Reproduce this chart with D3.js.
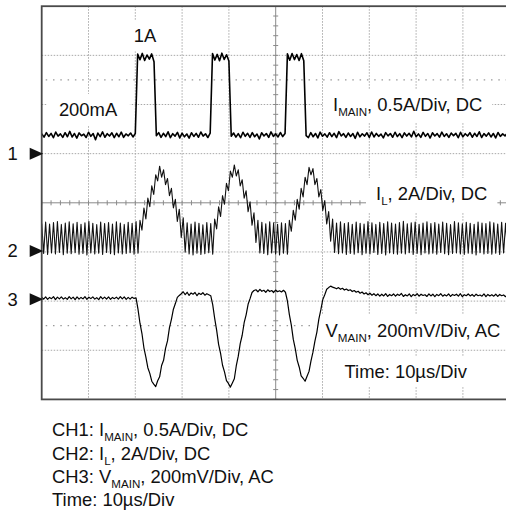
<!DOCTYPE html>
<html>
<head>
<meta charset="utf-8">
<script src="https://cdn.jsdelivr.net/npm/d3@7"></script>
<style>
  html, body { margin: 0; padding: 0; background: #fff; }
  svg { display: block; }
</style>
</head>
<body>
<svg id="scope" width="506" height="515"></svg>
<script>
// ---- Acquisition settings -------------------------------------------------
const timePerDivUs = 10;          // horizontal: 10 µs / division
const timeDivisions = 10;
const verticalDivisions = 8;
const mainStepUs = 0.5;           // sample spacing of the CH1 record
const fastStepUs = 0.42;          // sample spacing of the CH2 / CH3 records

// ---- CH1: load current I_MAIN, mA (0.5 A/div, DC) -------------------------
const iMainMilliamps = [
  202,168,214,175,206,162,220,178,201,166,213,172,226,170,205,158,211,182,198,164,
  218,176,204,142,209,173,221,167,203,179,212,163,207,172,219,166,200,181,210,170,205,
  1012,955,1020,948,1004,962,1015,935,
  182,214,166,207,174,222,163,203,178,216,160,209,171,200,158,213,175,206,167,220,179,202,164,208,
  1018,952,1010,946,1022,958,1006,942,
  178,210,168,204,162,218,176,207,165,214,172,200,150,212,180,205,166,221,175,201,170,215,174,206,
  1015,950,1019,957,1008,948,1017,944,
  183,164,214,172,205,160,219,177,201,168,213,174,207,163,224,180,203,166,210,175,
  204,156,217,171,202,179,212,165,220,170,206,176,199,161,214,181,205,167,218,174,
  203,163,211,179,207,170,228,172,201,166,216,176,205,159,212,180,204,168,219,175,
  202,165,210,183,206,162,217,171,203,179,213,167,207,175,222,164,204,178,211,170,
  205,160,215,176,201,181,209,173
];

// ---- CH2: inductor current I_L, A (2 A/div, DC) ---------------------------
const iInductorAmps = [
  1.12,-0.10,1.18,-0.14,1.10,-0.08,1.16,-0.12,1.20,-0.06,
  1.08,-0.15,1.14,-0.09,1.19,-0.11,1.11,-0.07,1.17,-0.13,
  1.09,-0.10,1.15,-0.16,1.21,-0.08,1.13,-0.12,1.07,-0.09,
  1.18,-0.14,1.12,-0.06,1.16,-0.11,1.10,-0.15,1.19,-0.08,
  1.14,-0.12,1.08,-0.10,1.17,-0.07,1.13,-0.13,1.20,-0.09,
  1.25,0.85,1.75,1.30,2.15,1.80,2.65,2.30,3.10,2.85,3.45,3.00,
  3.30,2.70,2.95,2.25,2.55,1.75,2.10,1.20,1.70,0.55,1.35,-0.05,
  1.15,-0.12,1.10,-0.16,1.18,-0.09,1.13,-0.14,1.06,-0.11,1.16,-0.07,1.12,-0.13,
  1.30,0.90,1.80,1.40,2.25,1.90,2.75,2.45,3.25,3.00,3.50,3.05,
  3.30,2.65,2.90,2.15,2.45,1.60,2.00,1.05,1.55,0.35,1.25,-0.08,
  1.17,-0.10,1.11,-0.15,1.19,-0.08,1.14,-0.12,1.09,-0.16,1.15,-0.09,1.12,-0.13,
  1.25,0.80,1.65,1.25,2.10,1.70,2.55,2.20,3.00,2.70,3.40,3.10,
  3.35,2.70,2.95,2.20,2.50,1.65,2.05,1.10,1.60,0.40,1.30,-0.06,
  1.14,-0.11,1.19,-0.08,1.12,-0.14,1.16,-0.10,1.09,-0.13,
  1.18,-0.07,1.13,-0.15,1.10,-0.09,1.20,-0.12,1.15,-0.06,
  1.08,-0.14,1.17,-0.10,1.12,-0.16,1.19,-0.08,1.14,-0.11,
  1.10,-0.13,1.16,-0.09,1.21,-0.12,1.11,-0.07,1.15,-0.14,
  1.18,-0.10,1.09,-0.15,1.14,-0.08,1.19,-0.12,1.12,-0.09,
  1.16,-0.13,1.10,-0.06,1.18,-0.11,1.13,-0.15,1.07,-0.10,
  1.20,-0.08,1.15,-0.12,1.11,-0.14,1.17,-0.09,1.13,-0.11,
  1.09,-0.16,1.18,-0.07,1.14,-0.12,1.12,-0.10,1.19,-0.13,
  1.15,-0.09,1.10,-0.14,1.17,-0.08,1.13,-0.11,1.16
];

// ---- CH3: output voltage V_MAIN, mV (200 mV/div, AC) ----------------------
const vMainMillivolts = [
  8,0,9,-1,7,2,10,-2,8,1,9,0,6,-1,10,1,8,-2,9,0,
  7,1,10,-1,8,2,9,0,6,-2,10,1,8,0,9,-1,7,2,8,0,
  10,1,9,-1,7,0,8,3,
  5,-42,-98,-140,-198,-236,-279,-302,-334,-346,-356,-332,-316,-270,-249,-200,-170,-116,-82,-41,-18,7,15,
  22,30,18,28,15,25,20,27,14,24,19,26,16,22,18,
  14,-22,-78,-126,-184,-221,-269,-296,-332,-343,-358,-341,-324,-271,-232,-181,-147,-96,-64,-21,2,27,35,
  38,30,40,32,36,28,38,31,35,27,37,30,34,29,36,
  28,-7,-63,-106,-164,-201,-249,-276,-312,-322,-334,-314,-294,-251,-216,-171,-134,-81,-44,-2,18,40,47,53,49,
  46,42,47,40,44,37,41,35,38,31,
  35,28,32,24,29,21,26,18,24,16,
  22,14,21,12,20,13,22,11,19,14,
  21,12,20,15,23,11,18,13,21,10,
  19,14,22,12,20,15,18,11,21,13,
  20,10,19,14,22,12,18,13,21,11,
  19,15,20,12,22,10,18,14,21,13,
  19,11,20,14,17,12,21,10,19,13,
  18,12,20,11,19,14,17,10,18,13
];

// ---- Channel set-up: units per division and ground offset (div) -------------
const channelIds = ["1", "2", "3"];
const channelPerDiv = [0.5, 2, 0.2];
const channelOffsetDiv = [1, -0.98, -1.96];

// ---- Legend texts -----------------------------------------------------------
const channelLabelParts = [
  [{ text: "I" }, { text: "MAIN", sub: true }, { text: ", 0.5A/Div, DC" }],
  [{ text: "I" }, { text: "L", sub: true }, { text: ", 2A/Div, DC" }],
  [{ text: "V" }, { text: "MAIN", sub: true }, { text: ", 200mV/Div, AC" }]
];
const timeLabel = "Time: 10µs/Div";
const levelLabels = [{ text: "1A", t: 20.1, value: 1.0 }, { text: "200mA", t: 4.1, value: 0.2 }];

// ---- Layout -----------------------------------------------------------------
const plot = { left: 41.7, top: 6.2, width: 468, height: 393.2 };
const fontFamily = "'Liberation Sans', Arial, Helvetica, sans-serif";
const fontSize = 18.4, subSize = 11.6, subShift = 5;

const svg = d3.select("#scope");

const x = d3.scaleLinear()
  .domain([0, timePerDivUs * timeDivisions])
  .range([plot.left, plot.left + plot.width]);
const yDiv = d3.scaleLinear()
  .domain([verticalDivisions / 2, -verticalDivisions / 2])
  .range([plot.top, plot.top + plot.height]);
const yChan = (ch, v) => yDiv(v / channelPerDiv[ch] + channelOffsetDiv[ch]);

const defs = svg.append("defs");
defs.append("clipPath").attr("id", "screen")
  .append("rect")
  .attr("x", plot.left).attr("y", plot.top)
  .attr("width", plot.width).attr("height", plot.height);

// ---- Graticule ----------------------------------------------------------------
const grid = svg.append("g").attr("clip-path", "url(#screen)");
const xMid = timePerDivUs * timeDivisions / 2;

grid.selectAll("line.vgrid")
  .data(d3.range(1, timeDivisions).map(k => k * timePerDivUs).filter(t => t !== xMid))
  .join("line")
  .attr("x1", d => x(d)).attr("x2", d => x(d))
  .attr("y1", plot.top).attr("y2", plot.top + plot.height)
  .attr("stroke", "#a8a8a8").attr("stroke-width", 1)
  .attr("stroke-dasharray", "1.5,1.5");

grid.selectAll("line.hgrid")
  .data(d3.range(-3, 4).filter(d => d !== 0))
  .join("line")
  .attr("x1", plot.left).attr("x2", plot.left + plot.width)
  .attr("y1", d => yDiv(d)).attr("y2", d => yDiv(d))
  .attr("stroke", "#a8a8a8").attr("stroke-width", 1)
  .attr("stroke-dasharray", "1.5,1.5");

// sparse reference dots at ±2.5 div
grid.selectAll("line.refdots")
  .data([2.5, -2.5])
  .join("line")
  .attr("x1", plot.left + 4).attr("x2", plot.left + plot.width)
  .attr("y1", d => yDiv(d)).attr("y2", d => yDiv(d))
  .attr("stroke", "#9a9a9a").attr("stroke-width", 1.2)
  .attr("stroke-dasharray", "1.5,5.8");

// centre cross-hair with fifth-division ticks
grid.append("line")
  .attr("x1", x(xMid)).attr("x2", x(xMid))
  .attr("y1", plot.top).attr("y2", plot.top + plot.height)
  .attr("stroke", "#8a8a8a").attr("stroke-width", 1);
grid.append("line")
  .attr("x1", plot.left).attr("x2", plot.left + plot.width)
  .attr("y1", yDiv(0)).attr("y2", yDiv(0))
  .attr("stroke", "#8a8a8a").attr("stroke-width", 1);
grid.selectAll("line.xminor")
  .data(d3.range(0, timePerDivUs * timeDivisions + 0.01, timePerDivUs / 5))
  .join("line")
  .attr("x1", d => x(d)).attr("x2", d => x(d))
  .attr("y1", yDiv(0) - 2.5).attr("y2", yDiv(0) + 2.5)
  .attr("stroke", "#8a8a8a").attr("stroke-width", 1);
grid.selectAll("line.yminor")
  .data(d3.range(-verticalDivisions / 2, verticalDivisions / 2 + 0.01, 0.2))
  .join("line")
  .attr("x1", x(xMid) - 2.5).attr("x2", x(xMid) + 2.5)
  .attr("y1", d => yDiv(d)).attr("y2", d => yDiv(d))
  .attr("stroke", "#8a8a8a").attr("stroke-width", 1);

// ---- Label masks, traces, labels -----------------------------------------
const maskLayer = svg.append("g").attr("clip-path", "url(#screen)");
const traceLayer = svg.append("g").attr("clip-path", "url(#screen)");
const textLayer = svg.append("g")
  .attr("font-family", fontFamily).attr("font-size", fontSize).attr("fill", "#111");

const traceLine = (ch, step, scaleToUnit) => d3.line()
  .x((d, i) => x(i * step))
  .y(d => yChan(ch, d * scaleToUnit));

traceLayer.append("path")
  .datum(iMainMilliamps)
  .attr("d", traceLine(0, mainStepUs, 0.001))
  .attr("fill", "none").attr("stroke", "#000").attr("stroke-width", 1.6)
  .attr("stroke-linejoin", "round");

traceLayer.append("path")
  .datum(iInductorAmps)
  .attr("d", traceLine(1, fastStepUs, 1))
  .attr("fill", "none").attr("stroke", "#111").attr("stroke-width", 1.1)
  .attr("stroke-linejoin", "round");

traceLayer.append("path")
  .datum(vMainMillivolts)
  .attr("d", traceLine(2, fastStepUs, 0.001))
  .attr("fill", "none").attr("stroke", "#000").attr("stroke-width", 1.2)
  .attr("stroke-linejoin", "round");

function drawLabel(g, x0, y0, parts) {
  const t = g.append("text").attr("x", x0).attr("y", y0);
  let lowered = false;
  parts.forEach(p => {
    const s = t.append("tspan").text(p.text);
    if (p.sub) {
      s.attr("font-size", subSize).attr("dy", subShift);
      lowered = true;
    } else if (lowered) {
      s.attr("dy", -subShift);
      lowered = false;
    }
  });
  return t;
}

function maskBehind(textSel, padX, padY) {
  const b = textSel.node().getBBox();
  maskLayer.append("rect")
    .attr("x", b.x - padX).attr("y", b.y - padY)
    .attr("width", b.width + 2 * padX).attr("height", b.height + 2 * padY)
    .attr("fill", "#fff");
}

// channel legends inside the screen
const chLabelPos = [[333, 111], [376, 200], [325.5, 337]];
channelLabelParts.forEach((parts, i) => {
  const t = drawLabel(textLayer, chLabelPos[i][0], chLabelPos[i][1], parts);
  maskBehind(t, 10, 5);
});
const tl = drawLabel(textLayer, 344.5, 378, [{ text: timeLabel }]);
maskBehind(tl, 10, 4);

// level call-outs on the CH1 trace
levelLabels.forEach((d, i) => {
  const t = textLayer.append("text")
    .attr("x", x(d.t) - 2)
    .attr("y", yChan(0, d.value) - (i === 0 ? 13 : 18))
    .text(d.text);
  maskBehind(t, i === 0 ? 8 : 12, 5);
});

// ---- Screen frame ----------------------------------------------------------------
svg.append("rect")
  .attr("x", plot.left).attr("y", plot.top)
  .attr("width", plot.width).attr("height", plot.height)
  .attr("fill", "none").attr("stroke", "#4a4a4a").attr("stroke-width", 1.8);

// ---- Channel ground markers ------------------------------------------------------
const markers = svg.append("g");
channelIds.forEach((id, ch) => {
  const yy = yChan(ch, 0);
  markers.append("path")
    .attr("d", `M${plot.left + 1.5},${yy} L${plot.left - 12},${yy - 6} L${plot.left - 12},${yy + 6} Z`)
    .attr("fill", "#111");
  markers.append("text")
    .attr("x", 7.5).attr("y", yy + 6.5)
    .attr("font-family", fontFamily).attr("font-size", fontSize).attr("fill", "#111")
    .text(id);
});

// ---- Caption below the screen ----------------------------------------------------
const footerLines = [
  [{ text: "CH1: I" }, { text: "MAIN", sub: true }, { text: ", 0.5A/Div, DC" }],
  [{ text: "CH2: I" }, { text: "L", sub: true }, { text: ", 2A/Div, DC" }],
  [{ text: "CH3: V" }, { text: "MAIN", sub: true }, { text: ", 200mV/Div, AC" }],
  [{ text: timeLabel }]
];
const footerBaselines = [436, 460, 483, 506];
const footer = svg.append("g")
  .attr("font-family", fontFamily).attr("font-size", fontSize).attr("fill", "#111");
footerLines.forEach((parts, i) => drawLabel(footer, 52, footerBaselines[i], parts));
</script>
</body>
</html>
